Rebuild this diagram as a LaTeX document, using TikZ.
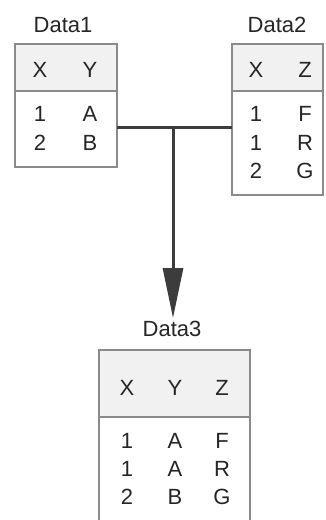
\documentclass[tikz,border=0pt]{standalone}
\usepackage{fontspec}
\setmainfont{Liberation Sans}
\usetikzlibrary{arrows.meta}
\definecolor{bordergray}{HTML}{8A8A8A}
\definecolor{hdrfill}{HTML}{F1F1F1}
\definecolor{txt}{HTML}{262626}
\definecolor{conn}{HTML}{3C3C3C}
\begin{document}
\begin{tikzpicture}[x=1pt,y=-1pt,
  every node/.style={font=\fontsize{22}{24}\selectfont, text=txt, inner sep=0pt, outer sep=0pt},
  hdr/.style={fill=hdrfill, draw=none, anchor=north west},
  tblbox/.style={draw=bordergray, line width=2pt, anchor=north west},
  divider/.style={draw=bordergray, line width=1.6pt},
  cell/.style={anchor=center},
  title/.style={anchor=center},
  conline/.style={draw=conn, line width=3pt},
]
\useasboundingbox (0,0) rectangle (325,520);
\clip (0,0) rectangle (325,520);
\fill[white] (0,0) rectangle (325,520);

% ---- Data1
\node[title] (t1) at (63,25) {Data1};
\node[hdr, minimum width=102pt, minimum height=47pt] (h1) at (15,44) {};
\draw[divider] (h1.south west) -- (h1.south east);
\node[tblbox, minimum width=102pt, minimum height=123pt] (d1) at (15,44) {};
\node[cell] (d1hx) at (40,70) {X};
\node[cell] (d1hy) at (90,70) {Y};
\node[cell] (d1r1x) at (40,114) {1};
\node[cell] (d1r1y) at (90,114) {A};
\node[cell] (d1r2x) at (40,142.5) {2};
\node[cell] (d1r2y) at (90,142.5) {B};

% ---- Data2
\node[title] (t2) at (277,25) {Data2};
\node[hdr, minimum width=91pt, minimum height=47pt] (h2) at (232,44) {};
\draw[divider] (h2.south west) -- (h2.south east);
\node[tblbox, minimum width=91pt, minimum height=151pt] (d2) at (232,44) {};
\node[cell] (d2hx) at (256,70) {X};
\node[cell] (d2hz) at (305,70) {Z};
\node[cell] (d2r1x) at (256,114) {1};
\node[cell] (d2r1z) at (305,114) {F};
\node[cell] (d2r2x) at (256,142.5) {1};
\node[cell] (d2r2z) at (305,142.5) {R};
\node[cell] (d2r3x) at (256,171) {2};
\node[cell] (d2r3z) at (305,171) {G};

% ---- Data3
\node[title] (t3) at (172,329) {Data3};
\node[hdr, minimum width=151pt, minimum height=67pt] (h3) at (99,350) {};
\draw[divider] (h3.south west) -- (h3.south east);
\node[tblbox, minimum width=151pt, minimum height=174pt] (d3) at (99,350) {};
\node[cell] (d3hx) at (127,388) {X};
\node[cell] (d3hy) at (175,388) {Y};
\node[cell] (d3hz) at (222,388) {Z};
\node[cell] (d3r1x) at (127,441) {1};
\node[cell] (d3r1y) at (175,441) {A};
\node[cell] (d3r1z) at (222,441) {F};
\node[cell] (d3r2x) at (127,469) {1};
\node[cell] (d3r2y) at (175,469) {A};
\node[cell] (d3r2z) at (222,469) {R};
\node[cell] (d3r3x) at (127,497) {2};
\node[cell] (d3r3y) at (175,497) {B};
\node[cell] (d3r3z) at (222,497) {G};

% ---- connectors
\coordinate (j) at (173,127);
\coordinate (tip) at (173,318);
\draw[conline] (d1.east |- j) -- (d2.west |- j);
\draw[conline, -{Triangle[length=50pt,width=20pt]}] (j) -- (tip);
\end{tikzpicture}
\end{document}
